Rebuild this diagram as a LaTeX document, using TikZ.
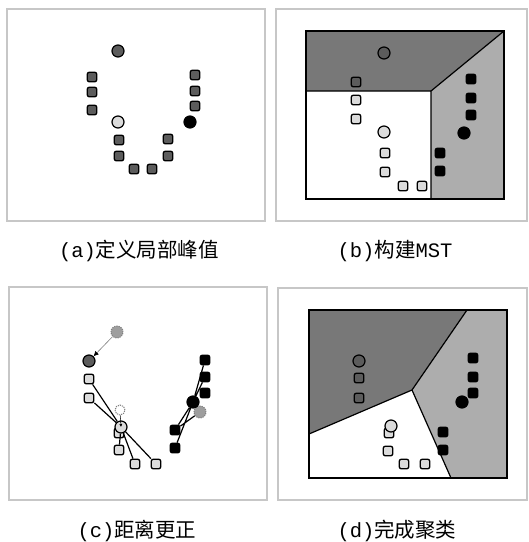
\documentclass[tikz,border=0pt]{standalone}
\usepackage{fontspec}
\newfontfamily\cjk{Noto Sans CJK SC}
\newfontfamily\lat{Liberation Mono}
\usetikzlibrary{arrows.meta}

\definecolor{darkpt}{gray}{0.36}
\definecolor{lightpt}{gray}{0.86}
\definecolor{movedpt}{gray}{0.62}
\definecolor{darkzone}{gray}{0.47}
\definecolor{lightzone}{gray}{0.68}
\definecolor{framegray}{gray}{0.78}

\tikzset{
  sq/.style={draw, line width=1.3pt, rounded corners=2pt, minimum size=9.5pt, inner sep=0pt},
  pk/.style={circle, draw, line width=1.2pt, minimum size=12pt, inner sep=0pt},
  dk/.style={fill=darkpt},
  lt/.style={fill=lightpt},
  bk/.style={fill=black},
  ghost/.style={pk, fill=movedpt, draw=gray, densely dotted, line width=1pt},
  ghostw/.style={pk, fill=white, draw=gray, densely dotted, line width=1pt, minimum size=10pt},
  link/.style={line width=1.2pt},
  panel/.style={draw=framegray, line width=1.1pt},
  zone/.style={draw=black, line width=1.2pt},
  captxt/.style={font=\fontsize{20.5}{20.5}\selectfont, inner sep=0pt}
}

\begin{document}
\begin{tikzpicture}[x=1pt, y=-1pt]
  \useasboundingbox (0,0) rectangle (529,542);
  \fill[white] (0,0) rectangle (529,542);

  % frames
  \draw[panel] (7,9) rectangle (265,221);
  \draw[panel] (276,9) rectangle (527,221);
  \draw[panel] (9,287) rectangle (267,500);
  \draw[panel] (278,288) rectangle (527,500);

  % (a) local peaks
  \node[pk, dk] (aP1) at (118,51) {};
  \node[pk, lt] (aP2) at (118,122) {};
  \node[pk, bk] (aP3) at (190,122) {};
  \foreach \p [count=\i] in {(92,77),(92,92),(92,110),(195,75),(195,91),(195,106),
      (119,140),(119,156),(134,169),(152,169),(168,139),(168,156)}
    \node[sq, dk] (aS\i) at \p {};
  \node[captxt] (capA) at (139,251) {{\lat(a)}{\cjk 定义局部峰值}};

  % (b) MST
  \coordinate (bNW) at (306,31);
  \coordinate (bNE) at (504,31);
  \coordinate (bSE) at (504,199);
  \coordinate (bSW) at (306,199);
  \coordinate (bW) at (306,91);
  \coordinate (bM) at (431,91);
  \coordinate (bS) at (431,199);
  \fill[darkzone] (bNW) -- (bNE) -- (bM) -- (bW) -- cycle;
  \fill[lightzone] (bNE) -- (bSE) -- (bS) -- (bM) -- cycle;
  \draw[zone] (bNW) rectangle (bSE);
  \draw[zone] (bW) -- (bM) -- (bNE) (bM) -- (bS);
  \node[pk, dk] (bP1) at (384,53) {};
  \node[sq, dk] (bD1) at (356,82) {};
  \node[pk, lt] (bP2) at (384,132) {};
  \node[pk, bk] (bP3) at (464,133) {};
  \foreach \p [count=\i] in {(356,100),(356,119),(385,153),(385,172),(403,186),(422,186)}
    \node[sq, lt] (bL\i) at \p {};
  \foreach \p [count=\i] in {(471,79),(471,98),(471,115),(440,153),(440,171)}
    \node[sq, bk] (bB\i) at \p {};
  \node[captxt] (capB) at (395,251) {{\lat(b)}{\cjk 构建}{\lat MST}};

  % (c) distance correction
  \node[ghost] (cG1) at (117,332) {};
  \node[pk, dk] (cP1) at (89,361) {};
  \draw[gray, line width=0.6pt, -{Latex[black, length=5pt, width=5pt]}] (cG1) -- (cP1);
  \node[sq, lt] (cL1) at (89,379) {};
  \node[sq, lt] (cL2) at (89,398) {};
  \node[ghostw] (cG2) at (120,410) {};
  \node[sq, lt] (cL3) at (119,433) {};
  \node[pk, lt] (cP2) at (121,427) {};
  \draw[line width=0.5pt, -{Latex[length=3pt, width=3pt]}] (cG2) -- (cP2.center);
  \node[sq, lt] (cL4) at (119,450) {};
  \node[sq, lt] (cL5) at (135,464) {};
  \node[sq, lt] (cL6) at (156,464) {};
  \draw[link] (cL1) -- (cP2) (cL2) -- (cP2)
    (cP2) -- (cL4) (cP2) -- (cL5) (cP2) -- (cL6);
  \node[ghost] (cG3) at (200,412) {};
  \node[sq, bk] (cB1) at (205,360) {};
  \node[sq, bk] (cB2) at (205,377) {};
  \node[sq, bk] (cB3) at (205,393) {};
  \node[pk, bk] (cP3) at (193,402) {};
  \node[sq, bk] (cB4) at (175,430) {};
  \node[sq, bk] (cB5) at (175,448) {};
  \draw[link] (cP3) -- (cB1) (cP3) -- (cB2)
    (cB4) -- (cP3) (cB4) -- (cG3) (cB5) -- (cP3);
  \node[captxt] (capC) at (137,531) {{\lat(c)}{\cjk 距离更正}};

  % (d) final clusters
  \coordinate (dNW) at (309,310);
  \coordinate (dNE) at (507,310);
  \coordinate (dSE) at (507,478);
  \coordinate (dSW) at (309,478);
  \coordinate (dN) at (467,310);
  \coordinate (dW) at (309,434);
  \coordinate (dS) at (451,478);
  \coordinate (dM) at (412,390);
  \fill[darkzone] (dNW) -- (dN) -- (dM) -- (dW) -- cycle;
  \fill[lightzone] (dN) -- (dNE) -- (dSE) -- (dS) -- (dM) -- cycle;
  \draw[zone] (dNW) rectangle (dSE);
  \draw[zone] (dW) -- (dM) -- (dN) (dM) -- (dS);
  \node[pk, dk] (dP1) at (359,361) {};
  \node[sq, dk] (dD1) at (359,378) {};
  \node[sq, dk] (dD2) at (359,398) {};
  \node[sq, lt] (dL1) at (389,433) {};
  \node[pk, lt] (dP2) at (391,426) {};
  \foreach \p [count=\i from 2] in {(388,451),(404,464),(425,464)}
    \node[sq, lt] (dL\i) at \p {};
  \foreach \p [count=\i] in {(473,358),(473,377),(473,393),(443,432),(443,450)}
    \node[sq, bk] (dB\i) at \p {};
  \node[pk, bk] (dP3) at (462,402) {};
  \node[captxt] (capD) at (397,531) {{\lat(d)}{\cjk 完成聚类}};
\end{tikzpicture}
\end{document}
